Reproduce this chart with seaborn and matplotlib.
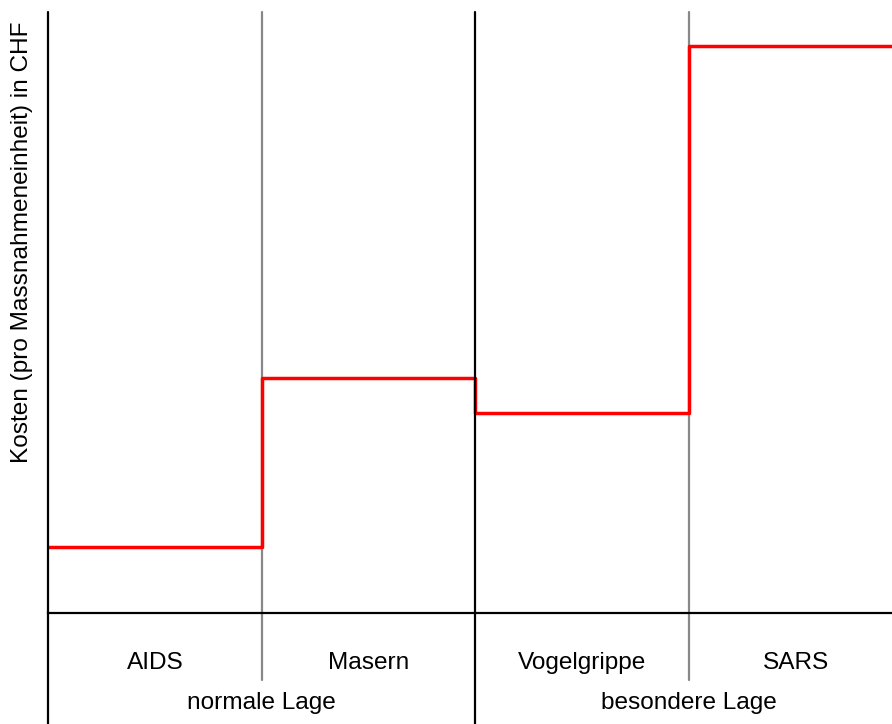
import numpy as np
import matplotlib
matplotlib.use("Agg")
import matplotlib.pyplot as plt
import seaborn as sns
import pandas as pd

sns.set_style("white")
plt.rcParams["font.family"] = ["Liberation Sans", "DejaVu Sans"]
plt.rcParams["text.color"] = "black"

# data (arbitrary cost units)
categories = ["AIDS", "Masern", "Vogelgrippe", "SARS"]
costs = [66, 235, 200, 567]
groups = ["normale Lage", "besondere Lage"]
YLABEL = "Kosten (pro Massnahmeneinheit) in CHF"
FONTSIZE = 17.6

df = pd.DataFrame({
    "pos": list(range(len(categories) + 1)),
    "cost": costs + [costs[-1]],
})

fig = plt.figure(figsize=(8.92, 7.24), dpi=100)
ax = fig.add_axes([48 / 892, 111 / 724, 1 - 48 / 892, (613 - 12) / 724])

sns.lineplot(data=df, x="pos", y="cost", drawstyle="steps-post",
             color="red", linewidth=2.5, ax=ax)
ax.set_xlim(0, 3.95)
ax.set_ylim(0, 601)
ax.set_xticks([])
ax.set_yticks([])
ax.set_xlabel("")
ax.set_ylabel("")

for s in ["top", "right"]:
    ax.spines[s].set_visible(False)
ax.spines["bottom"].set_linewidth(1.6)
ax.spines["bottom"].set_color("black")
ax.spines["left"].set_visible(False)

trans = ax.get_xaxis_transform()
# left axis line and group separator go all the way down
for xv in [0, 2]:
    ax.plot([xv, xv], [-0.185, 1], color="black", lw=1.6, transform=trans, clip_on=False)
# gray separators inside groups
for xv in [1, 3]:
    ax.plot([xv, xv], [-0.111, 1], color="#888888", lw=1.6, transform=trans, clip_on=False, zorder=1)

for i, c in enumerate(categories):
    ax.text(i + 0.5, -0.083, c, transform=trans, ha="center", va="center", fontsize=FONTSIZE)
for i, g in enumerate(groups):
    ax.text(2 * i + 1, -0.150, g, transform=trans, ha="center", va="center", fontsize=FONTSIZE)

fig.text(22 / 892, 1 - 242 / 724, YLABEL, rotation=90, ha="center", va="center", fontsize=FONTSIZE)

plt.savefig("out.png", dpi=100)
